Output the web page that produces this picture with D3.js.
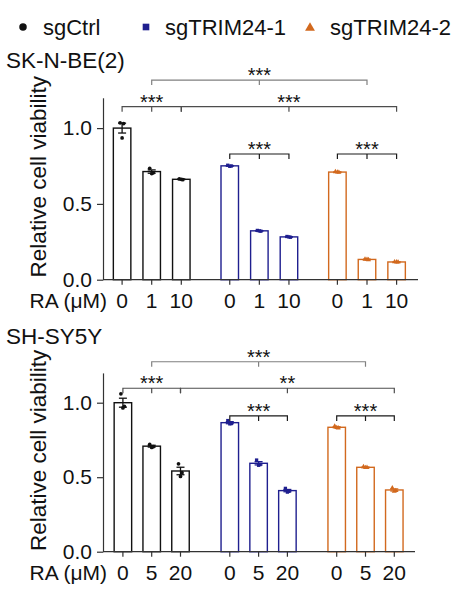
<html>
<head>
<script src="https://d3js.org/d3.v7.min.js"></script>
<style>
    body { margin: 0; background: #fff; }
    svg text { font-family: "Liberation Sans", Arial, sans-serif; fill: #111; }
</style>
</head>
<body>
<svg id="chart" width="471" height="597"></svg>
<script>
// groups and colours
const groups = ["sgCtrl", "sgTRIM24-1", "sgTRIM24-2"];
const groupColors = ["#111111", "#1f1f8f", "#d2691e"];
const yTicks = [0, 0.5, 1.0];

// SK-N-BE(2): replicates per dose (0, 1, 10 uM RA)
const skDoses = ["0", "1", "10"];
const skCtrl  = [[1.035, 1.03, 0.935], [0.735, 0.705, 0.70], [0.665, 0.66, 0.662]];
const skTrim1 = [[0.755, 0.75, 0.748], [0.325, 0.32, 0.322], [0.285, 0.28, 0.282]];
const skTrim2 = [[0.712, 0.708, 0.71], [0.135, 0.132, 0.134], [0.118, 0.116, 0.117]];
// [group, dose] triples for each bracket
const skSig = [
    { from: [0, 1], mid: [1, 1], to: [2, 1], label: "***", level: 0 },
    { from: [0, 0], mid: [0, 1], to: [0, 2], label: "***", level: 1 },
    { from: [0, 2], mid: [1, 2], to: [2, 2], label: "***", level: 1 },
    { from: [1, 0], mid: [1, 1], to: [1, 2], label: "***", level: 2 },
    { from: [2, 0], mid: [2, 1], to: [2, 2], label: "***", level: 2 },
];

// SH-SY5Y: replicates per dose (0, 5, 20 uM RA)
const shDoses = ["0", "5", "20"];
const shCtrl  = [[1.06, 0.975, 0.965], [0.72, 0.705, 0.70], [0.59, 0.53, 0.505]];
const shTrim1 = [[0.88, 0.86, 0.858], [0.615, 0.585, 0.58], [0.425, 0.405, 0.40]];
const shTrim2 = [[0.842, 0.83, 0.833], [0.57, 0.565, 0.564], [0.428, 0.41, 0.405]];
const shSig = [
    { from: [0, 1], mid: [1, 1], to: [2, 1], label: "***", level: 0 },
    { from: [0, 0], mid: [0, 1], to: [0, 2], label: "***", level: 1 },
    { from: [0, 2], mid: [1, 2], to: [2, 2], label: "**",  level: 1 },
    { from: [1, 0], mid: [1, 1], to: [1, 2], label: "***", level: 2 },
    { from: [2, 0], mid: [2, 1], to: [2, 2], label: "***", level: 2 },
];

const panels = [
    { title: "SK-N-BE(2)", titleY: 68, doses: skDoses, reps: [skCtrl, skTrim1, skTrim2], sig: skSig,
      y0: 279.7, unit: 151.6, gx: [151.7, 367], dx: 29.6, xEnd: 418, levels: [1.317, 1.141, 0.829] },
    { title: "SH-SY5Y", titleY: 344, doses: shDoses, reps: [shCtrl, shTrim1, shTrim2], sig: shSig,
      y0: 551.7, unit: 149, gx: [151.7, 365.5], dx: 28.8, xEnd: 415, levels: [1.275, 1.097, 0.911] },
];

const levelColors = ["#808080", "#4d4d4d", "#1a1a1a"];
const AXIS_X = 103;
const BAR_W = 17.5;
const jitter = [-2, 1.5, 0];

const svg = d3.select("#chart");
const font = "'Liberation Sans', Arial, sans-serif";

function symbolFor(i, size) {
    const types = [d3.symbolCircle, d3.symbolSquare, d3.symbolTriangle];
    return d3.symbol().type(types[i]).size(size)();
}

// legend
const legendX = [[23, 43], [146, 165], [310, 330]];
groups.forEach((g, i) => {
    svg.append("path")
        .attr("d", symbolFor(i, i === 2 ? 42 : 44))
        .attr("transform", `translate(${legendX[i][0]},${i === 2 ? 28 : 27})`)
        .attr("fill", groupColors[i]);
    svg.append("text")
        .attr("x", legendX[i][1]).attr("y", 34.5)
        .attr("font-size", 22)
        .text(g);
});

panels.forEach(p => {
    const y = d3.scaleLinear().domain([0, 1.2]).range([p.y0, p.y0 - 1.2 * p.unit]);
    const xg = d3.scalePoint().domain(groups).range(p.gx);
    const xd = d3.scalePoint().domain(p.doses).range([-p.dx, p.dx]);
    const cx = (gi, di) => xg(groups[gi]) + xd(p.doses[di]);

    const rows = [];
    p.reps.forEach((grp, gi) => grp.forEach((vals, di) => {
        const mean = d3.mean(vals);
        const sem = d3.deviation(vals) / Math.sqrt(vals.length);
        rows.push({ gi, di, vals, mean, sem });
    }));

    const g = svg.append("g");

    // title
    g.append("text").attr("x", 6).attr("y", p.titleY).attr("font-size", 22.5).text(p.title);

    // y label
    g.append("text")
        .attr("transform", `translate(46,${(y(0) + y(1.2)) / 2 - 12}) rotate(-90)`)
        .attr("text-anchor", "middle")
        .attr("font-size", 22.5)
        .text("Relative cell viability");

    // bars
    g.selectAll("rect.bar").data(rows).join("rect")
        .attr("class", "bar")
        .attr("x", d => cx(d.gi, d.di) - BAR_W / 2)
        .attr("y", d => y(d.mean))
        .attr("width", BAR_W)
        .attr("height", d => y(0) - y(d.mean))
        .attr("fill", "#fff")
        .attr("stroke", d => groupColors[d.gi])
        .attr("stroke-width", 1.4);

    // error bars
    const eb = g.selectAll("g.err").data(rows).join("g").attr("class", "err")
        .attr("stroke", d => groupColors[d.gi]).attr("stroke-width", 1.3);
    eb.append("line")
        .attr("x1", d => cx(d.gi, d.di)).attr("x2", d => cx(d.gi, d.di))
        .attr("y1", d => y(d.mean - d.sem)).attr("y2", d => y(d.mean + d.sem));
    [1, -1].forEach(s => {
        eb.append("line")
            .attr("x1", d => cx(d.gi, d.di) - 4).attr("x2", d => cx(d.gi, d.di) + 4)
            .attr("y1", d => y(d.mean + s * d.sem)).attr("y2", d => y(d.mean + s * d.sem));
    });

    // replicate points
    rows.forEach(r => {
        g.selectAll(null).data(r.vals).join("path")
            .attr("d", symbolFor(r.gi, 11))
            .attr("transform", (v, k) => `translate(${cx(r.gi, r.di) + jitter[k]},${y(v)})`)
            .attr("fill", groupColors[r.gi]);
    });

    // y axis
    g.append("g")
        .attr("transform", `translate(${AXIS_X},0)`)
        .call(d3.axisLeft(y).tickValues(yTicks).tickFormat(d3.format(".1f"))
            .tickSize(6).tickPadding(5).tickSizeOuter(0))
        .call(a => a.attr("font-size", 21).attr("font-family", font).attr("color", "#333"))
        .call(a => a.selectAll("path, line").attr("stroke-width", 1.2))
        .call(a => a.selectAll("text").attr("fill", "#111"));

    // x axis
    g.append("line")
        .attr("x1", AXIS_X).attr("x2", p.xEnd)
        .attr("y1", y(0)).attr("y2", y(0))
        .attr("stroke", "#333").attr("stroke-width", 1.2);
    g.selectAll("line.xt").data(rows).join("line").attr("class", "xt")
        .attr("x1", d => cx(d.gi, d.di)).attr("x2", d => cx(d.gi, d.di))
        .attr("y1", y(0)).attr("y2", y(0) + 5)
        .attr("stroke", "#333").attr("stroke-width", 1.2);
    g.selectAll("text.xl").data(rows).join("text").attr("class", "xl")
        .attr("x", d => cx(d.gi, d.di)).attr("y", y(0) + 28)
        .attr("text-anchor", "middle").attr("font-size", 21)
        .text(d => p.doses[d.di]);
    g.append("text")
        .attr("x", 107).attr("y", y(0) + 28)
        .attr("text-anchor", "end").attr("font-size", 21)
        .text("RA (\u03bcM)");

    // significance brackets
    p.sig.forEach(s => {
        const by = y(p.levels[s.level]);
        const x1 = cx(...s.from), xm = cx(...s.mid), x2 = cx(...s.to);
        g.append("path")
            .attr("d", `M${x1},${by + 5}V${by}H${x2}V${by + 5}M${xm},${by}V${by + 5}`)
            .attr("fill", "none")
            .attr("stroke", levelColors[s.level]).attr("stroke-width", 1.2);
        g.append("text")
            .attr("x", xm).attr("y", by + 2)
            .attr("text-anchor", "middle").attr("font-size", 20)
            .text(s.label);
    });
});
</script>
</body>
</html>
